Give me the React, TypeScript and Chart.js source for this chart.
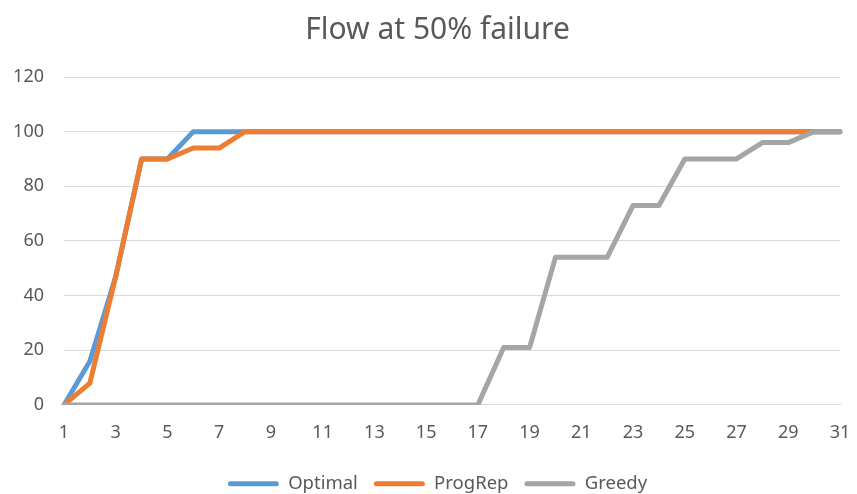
import React, { useEffect, useRef } from "react";
import { Chart, registerables } from "chart.js";

Chart.register(...registerables);

const categories: string[] = [
  "1", "2", "3", "4", "5", "6", "7", "8", "9", "10",
  "11", "12", "13", "14", "15", "16", "17", "18", "19", "20",
  "21", "22", "23", "24", "25", "26", "27", "28", "29", "30", "31",
];

const optimal: number[] = [
  0, 16, 47, 90, 90, 100, 100, 100, 100, 100,
  100, 100, 100, 100, 100, 100, 100, 100, 100, 100,
  100, 100, 100, 100, 100, 100, 100, 100, 100, 100, 100,
];

const progRep: number[] = [
  0, 8, 47, 90, 90, 94, 94, 100, 100, 100,
  100, 100, 100, 100, 100, 100, 100, 100, 100, 100,
  100, 100, 100, 100, 100, 100, 100, 100, 100, 100, 100,
];

const greedy: number[] = [
  0, 0, 0, 0, 0, 0, 0, 0, 0, 0,
  0, 0, 0, 0, 0, 0, 0, 21, 21, 54,
  54, 54, 73, 73, 90, 90, 90, 96, 96, 100, 100,
];

const yTicks: number[] = [0, 20, 40, 60, 80, 100, 120];

const TEXT = "#595959";
const GRID = "#D9D9D9";
const FONT = "'Noto Sans', 'Open Sans', sans-serif";

const widenYLabelArea = {
  id: "widenYLabelArea",
  afterLayout(chart: any) {
    const y = chart.scales.y;
    if (y) y.left = 0;
  },
};

export default function App() {
  const ref = useRef<HTMLCanvasElement | null>(null);

  useEffect(() => {
    document.body.style.margin = "0";
    const canvas = ref.current;
    if (!canvas) return;
    const chart = new Chart(canvas, {
      type: "line",
      data: {
        labels: categories,
        datasets: [
          {
            label: "Optimal",
            data: optimal,
            borderColor: "#5B9BD5",
            backgroundColor: "#5B9BD5",
            borderWidth: 5,
            pointRadius: 0,
            tension: 0,
            borderJoinStyle: "round",
            borderCapStyle: "round",
            order: 2,
          },
          {
            label: "ProgRep",
            data: progRep,
            borderColor: "#ED7D31",
            backgroundColor: "#ED7D31",
            borderWidth: 5,
            pointRadius: 0,
            tension: 0,
            borderJoinStyle: "round",
            borderCapStyle: "round",
            order: 1,
          },
          {
            label: "Greedy",
            data: greedy,
            borderColor: "#A5A5A5",
            backgroundColor: "#A5A5A5",
            borderWidth: 5,
            pointRadius: 0,
            tension: 0,
            borderJoinStyle: "round",
            borderCapStyle: "round",
            order: 0,
          },
        ],
      },
      options: {
        responsive: false,
        animation: false,
        layout: { padding: { left: 35, right: 17, top: 0, bottom: -9 } },
        plugins: {
          title: {
            display: true,
            text: "Flow at 50% failure",
            color: TEXT,
            font: { family: FONT, size: 30, weight: "normal" },
            padding: { top: 12, bottom: 29 },
          },
          legend: {
            position: "bottom",
            labels: {
              color: TEXT,
              font: { family: FONT, size: 18.5 },
              boxWidth: 51,
              boxHeight: 5,
              padding: 16,
              useBorderRadius: true,
              borderRadius: 2.5,
              sort: (a: any, b: any) => a.datasetIndex - b.datasetIndex,
              generateLabels: (c: any) =>
                Chart.defaults.plugins.legend.labels
                  .generateLabels(c)
                  .map((l: any) => ({ ...l, lineWidth: 0 })),
            },
          },
          tooltip: { enabled: false },
        },
        scales: {
          x: {
            type: "category",
            offset: false,
            grid: { display: false, drawTicks: false },
            border: { display: true, color: GRID, width: 1 },
            afterFit: (s: any) => {
              s.paddingLeft = 0;
              s.paddingRight = 0;
              s.height = s.height - 2;
            },
            ticks: {
              autoSkip: false,
              maxRotation: 0,
              color: TEXT,
              font: { family: FONT, size: 18 },
              padding: 17,
              callback: (_v: any, i: number) => (i % 2 === 0 ? categories[i] : ""),
            },
          },
          y: {
            min: 0,
            max: 120,
            afterBuildTicks: (s: any) => {
              s.ticks = yTicks.map((v) => ({ value: v }));
            },
            afterFit: (s: any) => {
              s.width = 29;
              s.paddingTop = 0;
              s.paddingBottom = 0;
            },
            grid: { color: GRID, lineWidth: 1, drawTicks: false },
            border: { display: false },
            ticks: {
              color: TEXT,
              font: { family: FONT, size: 18 },
              padding: 20,
            },
          },
        },
      },
      plugins: [widenYLabelArea],
    });
    return () => chart.destroy();
  }, []);

  return (
    <div style={{ width: 857, height: 494 }}>
      <canvas ref={ref} width={857} height={494} />
    </div>
  );
}
